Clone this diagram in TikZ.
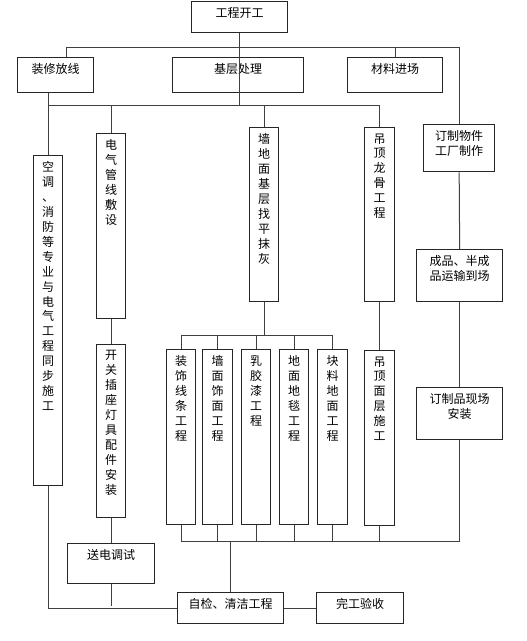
\documentclass[tikz,border=0pt]{standalone}
\usepackage{fontspec}
\newfontfamily\cjk{Noto Sans CJK SC}
\tikzset{every picture/.style={line width=0.75pt}}
\tikzset{
  stage/.style 2 args={draw=black!85, line width=1pt, anchor=north west, inner sep=0pt, minimum width=#1*0.75pt, minimum height=#2*0.75pt},
  boxtext/.style={anchor=north, inner sep=0pt, yshift=-4.5pt, align=center, font=\cjk\fontsize{9}{11.2}\selectfont},
  link/.style={draw=black!75, line width=0.75pt},
}

\begin{document}
\begin{tikzpicture}[x=0.75pt,y=0.75pt,yscale=-1,xscale=1]
\useasboundingbox (0,0) rectangle (527,641);

% Boxes
\node[stage={96}{31}, label={[boxtext]north:工程开工}] (start) at (191,1) {};
\node[stage={76}{35}, label={[boxtext]north:装修放线}] (layout) at (17,57) {};
\node[stage={131}{35}, label={[boxtext]north:基层处理}] (base) at (172,57) {};
\node[stage={95}{35}, label={[boxtext]north:材料进场}] (material) at (347,57) {};
\node[stage={29}{330}, label={[boxtext]north:空\\调\\、\\消\\防\\等\\专\\业\\与\\电\\气\\工\\程\\同\\步\\施\\工}] (aircon) at (33,155) {};
\node[stage={29}{185}, label={[boxtext]north:电\\气\\管\\线\\敷\\设}] (wiring) at (96,133) {};
\node[stage={29}{174}, label={[boxtext]north:墙\\地\\面\\基\\层\\找\\平\\抹\\灰}] (plaster) at (249,127) {};
\node[stage={30}{174}, label={[boxtext]north:吊\\顶\\龙\\骨\\工\\程}] (keel) at (364,127) {};
\node[stage={71}{47}, label={[boxtext]north:订制物件\\工厂制作}] (custom) at (423,124) {};
\node[stage={86}{52}, label={[boxtext]north:成品、半成\\品运输到场}] (transport) at (416,249) {};
\node[stage={86}{52}, label={[boxtext]north:订制品现场\\安装}] (install) at (416,387) {};
\node[stage={29}{173}, label={[boxtext]north:开\\关\\插\\座\\灯\\具\\配\\件\\安\\装}] (switch) at (96,344) {};
\node[stage={29}{175}, label={[boxtext]north:装\\饰\\线\\条\\工\\程}] (trim) at (166,349) {};
\node[stage={30}{175}, label={[boxtext]north:墙\\面\\饰\\面\\工\\程}] (wallface) at (202,349) {};
\node[stage={29}{175}, label={[boxtext]north:乳\\胶\\漆\\工\\程}] (latex) at (241,349) {};
\node[stage={29}{175}, label={[boxtext]north:地\\面\\地\\毯\\工\\程}] (carpet) at (279,349) {};
\node[stage={30}{175}, label={[boxtext]north:块\\料\\地\\面\\工\\程}] (tile) at (317,349) {};
\node[stage={30}{175}, label={[boxtext]north:吊\\顶\\面\\层\\施\\工}] (ceiling) at (364,350) {};
\node[stage={87}{40}, label={[boxtext]north:送电调试}] (power) at (67,543) {};
\node[stage={106}{31}, label={[boxtext]north:自检、清洁工程}] (clean) at (177,592) {};
\node[stage={87}{31}, label={[boxtext]north:完工验收}] (accept) at (316,592) {};

% Bus levels
\coordinate (topbus) at (238,48);
\coordinate (midbus) at (238,106);
\coordinate (finbus) at (263,335);
\coordinate (endbus) at (230,541);
\coordinate (lastbus) at (110,606);

%Straight Lines
\draw[link] (start.south) -- (start.south |- midbus);
\draw[link] ([xshift=8.25pt]layout.north) |- (custom.north |- topbus) -- (custom.north);
\draw[link] (material.north) -- (material.north |- topbus);
\draw[link] (layout.south -| aircon.north) -- (aircon.north);
\draw[link] (aircon.north |- midbus) -| (keel.north);
\draw[link] (wiring.north) -- (wiring.north |- midbus);
\draw[link] (plaster.north) -- (plaster.north |- midbus);
%Straight Lines
\draw[link] (wiring.south) -- (switch.north);
\draw[link] (switch.south) -- (power.north);
\draw[link] (power.south) -- (power.south |- lastbus);
\draw[link] (aircon.south) |- (clean.west);
\draw[link] (clean.east) -- (accept.west);
%Straight Lines
\draw[link] (plaster.south) -- (plaster.south |- finbus);
\draw[link] (trim.north) -- (trim.north |- finbus) -| (tile.north);
\foreach \n in {wallface,latex,carpet}
  \draw[link] (\n.north) -- (\n.north |- finbus);
\draw[link] (keel.south) -- (ceiling.north);
%Straight Lines
\draw[link] (custom.south) -- (transport.north);
\draw[link] (transport.south) -- (install.north);
\draw[link] (trim.south) -- (trim.south |- endbus) -| (install.south);
\foreach \n in {wallface,latex,carpet,tile,ceiling}
  \draw[link] (\n.south) -- (\n.south |- endbus);
\draw[link] (clean.north) -- (clean.north |- endbus);

\end{tikzpicture}
\end{document}
